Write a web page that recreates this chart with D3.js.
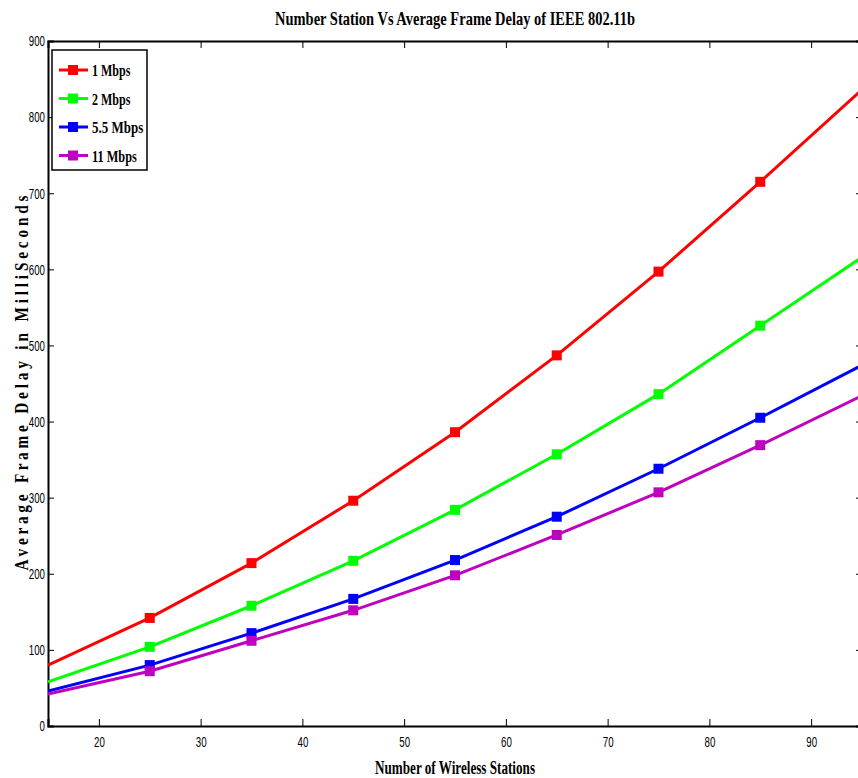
<!DOCTYPE html>
<html>
<head>
<meta charset="utf-8">
<script src="https://cdn.jsdelivr.net/npm/d3@7"></script>
<style>
  body { margin: 0; background: #fff; }
  text { font-family: "Liberation Serif", "Times New Roman", serif; }
</style>
</head>
<body>
<div id="vis"></div>
<script>
// stations (x) - axis limits 15 and 95 are where the lines leave the plot
var stations = [15, 25, 35, 45, 55, 65, 75, 85, 95];
var delay1 = [80, 142, 214, 296, 386, 487, 597, 715, 836];
var delay2 = [58, 104, 158, 217, 284, 357, 436, 526, 616];
var delay55 = [46, 80, 122, 167, 218, 275, 338, 405, 474];
var delay11 = [42, 72, 112, 152, 198, 251, 307, 369, 434];
var seriesNames = ["1 Mbps", "2 Mbps", "5.5 Mbps", "11 Mbps"];
var seriesColors = ["#ff0000", "#00ff00", "#0000ff", "#bf00bf"];
var xTicks = [20, 30, 40, 50, 60, 70, 80, 90];
var yTicks = [0, 100, 200, 300, 400, 500, 600, 700, 800, 900];

var width = 858, height = 778;
var plotLeft = 48, plotRight = 862, plotTop = 41, plotBottom = 726;

var svg = d3.select("#vis").append("svg")
  .attr("width", width)
  .attr("height", height);

var x = d3.scaleLinear().domain([15, 95]).range([plotLeft, plotRight]);
var y = d3.scaleLinear().domain([0, 900]).range([plotBottom, plotTop]);

// clip for the lines
svg.append("clipPath").attr("id", "plotclip")
  .append("rect").attr("x", plotLeft).attr("y", plotTop)
  .attr("width", plotRight - plotLeft).attr("height", plotBottom - plotTop);

// axes with inward ticks
var xb = svg.append("g").attr("transform", "translate(0," + plotBottom + ")")
  .call(d3.axisBottom(x).tickValues(xTicks).tickSize(-7).tickPadding(9));
var xt = svg.append("g").attr("transform", "translate(0," + plotTop + ")")
  .call(d3.axisTop(x).tickValues(xTicks).tickSize(-7).tickFormat(""));
var yl = svg.append("g").attr("transform", "translate(" + plotLeft + ",0)")
  .call(d3.axisLeft(y).tickValues(yTicks).tickSize(-6).tickPadding(4));
var yr = svg.append("g").attr("transform", "translate(" + plotRight + ",0)")
  .call(d3.axisRight(y).tickValues(yTicks).tickSize(-6).tickFormat(""));

[xb, xt, yl, yr].forEach(function(g) {
  g.select(".domain").attr("stroke", "#000").attr("stroke-width", 2);
  g.selectAll(".tick line").attr("stroke", "#000").attr("stroke-width", 1);
  g.selectAll(".tick text")
    .attr("fill", "#000")
    .style("font-family", "'Liberation Sans', sans-serif")
    .style("font-size", "15px")
    .attr("lengthAdjust", "spacingAndGlyphs")
    .attr("textLength", function(d) { return String(d).length * 5.4; });
});
xb.selectAll(".tick text").attr("dy", "0.8em");
yl.selectAll(".tick text").attr("dx", "1px");

// series
var allSeries = [delay1, delay2, delay55, delay11];
var line = d3.line()
  .x(function(d, i) { return x(stations[i]); })
  .y(function(d) { return y(d); });

var plot = svg.append("g").attr("clip-path", "url(#plotclip)");
allSeries.forEach(function(vals, k) {
  plot.append("path")
    .attr("d", line(vals))
    .attr("fill", "none")
    .attr("stroke", seriesColors[k])
    .attr("stroke-width", 3);
  // markers only for points inside the axis limits
  vals.forEach(function(v, i) {
    if (stations[i] <= 15 || stations[i] >= 95) return;
    plot.append("rect")
      .attr("x", x(stations[i]) - 5)
      .attr("y", y(v) - 5)
      .attr("width", 10)
      .attr("height", 10)
      .attr("fill", seriesColors[k]);
  });
});

// legend
var legend = svg.append("g");
legend.append("rect")
  .attr("x", 52).attr("y", 50).attr("width", 95).attr("height", 120)
  .attr("fill", "#fff").attr("stroke", "#000").attr("stroke-width", 1.5);
seriesNames.forEach(function(name, k) {
  var ly = 70 + k * 28.5;
  legend.append("line")
    .attr("x1", 59).attr("x2", 88).attr("y1", ly).attr("y2", ly)
    .attr("stroke", seriesColors[k]).attr("stroke-width", 3);
  legend.append("rect")
    .attr("x", 68).attr("y", ly - 5).attr("width", 10).attr("height", 10)
    .attr("fill", seriesColors[k]);
  legend.append("text")
    .attr("x", 92).attr("y", ly + 6)
    .attr("font-size", "17px").attr("font-weight", "bold")
    .attr("textLength", name.length * 6.4).attr("lengthAdjust", "spacingAndGlyphs")
    .text(name);
});

// title and labels
svg.append("text")
  .attr("x", 455).attr("y", 25)
  .attr("text-anchor", "middle")
  .attr("font-size", "19px").attr("font-weight", "bold")
  .attr("textLength", 360).attr("lengthAdjust", "spacingAndGlyphs")
  .text("Number Station Vs Average Frame Delay of IEEE 802.11b");

svg.append("text")
  .attr("x", 455).attr("y", 774)
  .attr("text-anchor", "middle")
  .attr("font-size", "18px").attr("font-weight", "bold")
  .attr("textLength", 160).attr("lengthAdjust", "spacingAndGlyphs")
  .text("Number of Wireless Stations");

svg.append("text")
  .attr("transform", "translate(28,383) rotate(-90)")
  .attr("text-anchor", "middle")
  .attr("font-size", "18px").attr("font-weight", "bold")
  .style("white-space", "pre")
  .attr("textLength", 375).attr("lengthAdjust", "spacingAndGlyphs")
  .text("A v e r a g e   F r a m e   D e l a y   i n   M i l l i S e c o n d s");
</script>
</body>
</html>
